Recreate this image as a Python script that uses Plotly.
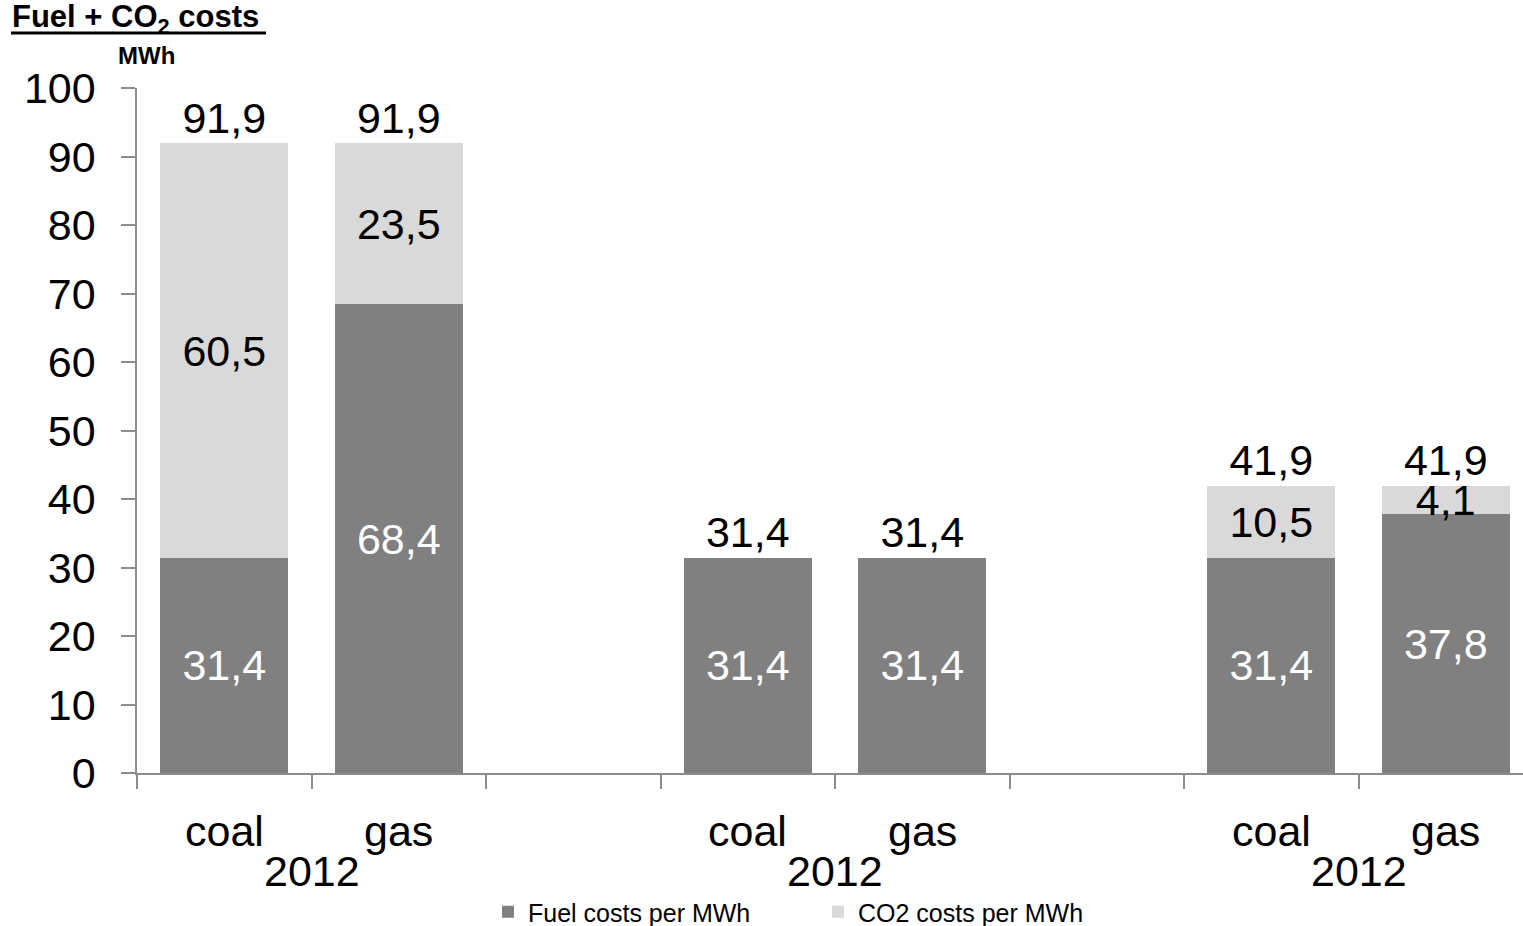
import plotly.graph_objects as go

# Fuel and CO2 cost components per MWh (EUR/MWh)
categories = ["coal", "gas", "coal", "gas", "coal", "gas"]
group_labels = ["2012", "2012", "2012"]
fuel_costs = [31.4, 68.4, 31.4, 31.4, 31.4, 37.8]
co2_costs = [60.5, 23.5, 0.0, 0.0, 10.5, 4.1]
y_ticks = [0, 10, 20, 30, 40, 50, 60, 70, 80, 90, 100]

FONT = "Liberation Sans, Arial, sans-serif"
DARK = "#808080"
LIGHT = "#D9D9D9"
AXIS = "#8C8C8C"
BIG = 43

W, H = 1523, 926
L, T, B = 137, 88, 153
PW, PH = W - L, H - T - B


def fmt(v):
    return f"{v:.1f}".replace(".", ",")


# each group holds two bars followed by an empty slot
xpos = [3 * (i // 2) + (i % 2) for i in range(len(categories))]
totals = [round(f + c, 1) for f, c in zip(fuel_costs, co2_costs)]

fig = go.Figure()
fig.add_trace(go.Bar(
    x=xpos, y=fuel_costs, name="Fuel costs per MWh",
    marker=dict(color=DARK, line=dict(width=0)),
    text=[fmt(v) for v in fuel_costs], textposition="inside",
    insidetextanchor="middle", constraintext="none",
    textfont=dict(family=FONT, size=BIG, color="white"),
))
fig.add_trace(go.Bar(
    x=xpos, y=co2_costs, name="CO2 costs per MWh",
    marker=dict(color=LIGHT, line=dict(width=0)),
    text=[fmt(v) if v else None for v in co2_costs], textposition="inside",
    insidetextanchor="middle", constraintext="none",
    textfont=dict(family=FONT, size=BIG, color="black"),
))
# stack totals above each bar
fig.add_trace(go.Scatter(
    x=xpos, y=totals, mode="text", text=[fmt(v) for v in totals],
    textposition="top center", showlegend=False, hoverinfo="skip",
    textfont=dict(family=FONT, size=BIG, color="black"),
))

annotations = []
for x, cat in zip(xpos, categories):
    annotations.append(dict(
        x=x, y=0, xref="x", yref="paper", text=cat, showarrow=False,
        yanchor="middle", yshift=-58,
        font=dict(family=FONT, size=BIG, color="black"),
    ))
for g, label in enumerate(group_labels):
    annotations.append(dict(
        x=3 * g + 0.5, y=0, xref="x", yref="paper", text=label, showarrow=False,
        yanchor="middle", yshift=-98,
        font=dict(family=FONT, size=BIG, color="black"),
    ))
# unit label: "Fuel + CO2 costs" over "MWh"
annotations.append(dict(
    x=(10 - L) / PW, y=1 + (T - 19) / PH, xref="paper", yref="paper",
    text="<b>Fuel + CO<sub>2</sub> costs</b>", showarrow=False,
    xanchor="left", yanchor="middle",
    font=dict(family=FONT, size=31, color="black"),
))
annotations.append(dict(
    x=(146 - L) / PW, y=1 + (T - 56) / PH, xref="paper", yref="paper",
    text="<b>MWh</b>", showarrow=False,
    xanchor="center", yanchor="middle",
    font=dict(family=FONT, size=24, color="black"),
))

fig.update_layout(
    width=W, height=H,
    margin=dict(l=L, r=0, t=T, b=B),
    paper_bgcolor="white", plot_bgcolor="white",
    barmode="stack", bargap=0.267,
    showlegend=True,
    legend=dict(
        orientation="h", x=(488 - L) / PW, xanchor="left",
        yref="container", y=1 - 912 / H, yanchor="middle",
        font=dict(family=FONT, size=25, color="black"),
        itemsizing="constant", traceorder="normal",
        itemwidth=30, entrywidth=285,
    ),
    shapes=[dict(
        type="line", xref="paper", yref="paper",
        x0=(11 - L) / PW, x1=(266 - L) / PW,
        y0=1 + (T - 33) / PH, y1=1 + (T - 33) / PH,
        line=dict(color="black", width=3),
    )],
    annotations=annotations,
    font=dict(family=FONT, color="black"),
)
fig.update_xaxes(
    range=[-0.5, 7.5 - 10 / 174.5],
    tickvals=[k - 0.5 for k in range(9)], ticktext=[""] * 9,
    ticks="outside", ticklen=14, tickcolor=AXIS, tickwidth=1.5,
    showline=True, linecolor=AXIS, linewidth=1.5,
    showgrid=False, zeroline=False, fixedrange=True,
)
fig.update_yaxes(
    range=[0, 100], tickvals=y_ticks,
    ticks="outside", ticklen=14, tickcolor=AXIS, tickwidth=1.5,
    showline=True, linecolor=AXIS, linewidth=1.5,
    showgrid=False, zeroline=False,
    tickfont=dict(family=FONT, size=BIG, color="black"),
    ticklabelstandoff=17,
)

fig.write_html("out.html")
